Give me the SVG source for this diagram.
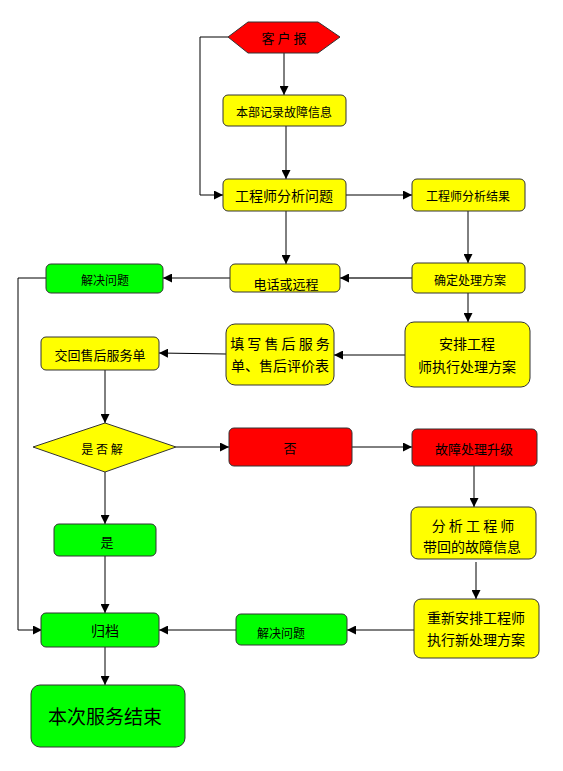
<svg xmlns="http://www.w3.org/2000/svg" width="563" height="771" viewBox="0 0 563 771">
<style>
.y{fill:#ffff00;stroke:#333;stroke-width:1}
.r{fill:#ff0000;stroke:#333;stroke-width:1}
.g{fill:#00ff00;stroke:#333;stroke-width:1}
text{font-family:"Noto Sans CJK SC","Liberation Sans",sans-serif;font-size:13px;fill:#000;text-anchor:middle;dominant-baseline:central}
.c line,.c polyline{stroke:#000;stroke-width:1;fill:none;marker-end:url(#a)}
</style>
<defs>
<marker id="a" viewBox="0 0 10 10" refX="10" refY="5" markerWidth="9" markerHeight="9" markerUnits="userSpaceOnUse" orient="auto"><path d="M0,0 L10,5 L0,10 z" fill="#000"/></marker>
<clipPath id="cp"><rect x="230" y="264" width="110" height="28"/></clipPath>
</defs>
<rect width="563" height="771" fill="#fff"/>
<g class="c">
<line x1="284" y1="53" x2="284" y2="95"/>
<polyline points="228,37 200,37 200,195 223,195"/>
<line x1="286" y1="126" x2="286" y2="179"/>
<line x1="346" y1="195" x2="412" y2="195"/>
<line x1="468" y1="211" x2="468" y2="263"/>
<line x1="286" y1="211" x2="286" y2="264"/>
<line x1="412" y1="278" x2="340" y2="278" style="stroke:#666;stroke-width:2"/>
<line x1="230" y1="278" x2="163" y2="278"/>
<polyline points="46,278 18,278 18,630 42,630"/>
<line x1="468" y1="293" x2="468" y2="322"/>
<line x1="405" y1="355" x2="334" y2="355"/>
<line x1="226" y1="354" x2="159" y2="353"/>
<line x1="105" y1="370" x2="105" y2="423"/>
<line x1="176" y1="447" x2="229" y2="447"/>
<line x1="352" y1="447" x2="412" y2="447"/>
<line x1="474" y1="466" x2="474" y2="507"/>
<line x1="476" y1="562" x2="476" y2="599"/>
<line x1="414" y1="630" x2="347" y2="630"/>
<line x1="236" y1="630" x2="159" y2="630"/>
<line x1="105" y1="472" x2="105" y2="524"/>
<line x1="105" y1="556" x2="105" y2="613"/>
<line x1="105" y1="647" x2="105" y2="685"/>
</g>
<g id="start"><polygon class="r" points="228,37 248,22 318,22 340,37 318,53 248,53"/><text x="284" y="37">客 户 报</text></g>
<g id="record"><rect class="y" x="223" y="95" width="123" height="31" rx="5"/><text x="284" y="111" style="font-size:12px">本部记录故障信息</text></g>
<g id="analyze"><rect class="y" x="223" y="179" width="123" height="32" rx="5"/><text x="284" y="195" style="font-size:14px">工程师分析问题</text></g>
<g id="result"><rect class="y" x="412" y="179" width="113" height="32" rx="5"/><text x="468" y="195" style="font-size:12px">工程师分析结果</text></g>
<g id="plan"><rect class="y" x="412" y="263" width="113" height="30" rx="5"/><text x="470" y="279" style="font-size:12px">确定处理方案</text></g>
<g id="remote"><rect class="y" x="230" y="264" width="110" height="28" rx="5"/><text x="286" y="283" style="font-size:13px" clip-path="url(#cp)">电话或远程</text></g>
<g id="solved1"><rect class="g" x="46" y="264" width="117" height="29" rx="5"/><text x="105" y="279" style="font-size:12px">解决问题</text></g>
<g id="arrange"><rect class="y" x="405" y="322" width="125" height="65" rx="9"/><text x="467" y="343" style="font-size:14px">安排工程</text><text x="467" y="366" style="font-size:14px">师执行处理方案</text></g>
<g id="fill"><rect class="y" x="226" y="324" width="108" height="61" rx="9"/><text x="280" y="343" style="font-size:14px">填 写 售 后 服 务</text><text x="280" y="365" style="font-size:14px">单、售后评价表</text></g>
<g id="return"><rect class="y" x="41" y="337" width="118" height="33" rx="5"/><text x="100" y="354" style="font-size:13px">交回售后服务单</text></g>
<g id="decide"><polygon class="y" points="33,447 105,423 176,447 105,472"/><text x="102" y="448" style="font-size:12px">是 否 解</text></g>
<g id="no"><rect class="r" x="229" y="428" width="123" height="38" rx="5"/><text x="290" y="447" style="font-size:13px">否</text></g>
<g id="upgrade"><rect class="r" x="412" y="429" width="125" height="37" rx="5"/><text x="474" y="448" style="font-size:13px">故障处理升级</text></g>
<g id="bring"><rect class="y" x="411" y="507" width="125" height="52" rx="7"/><text x="473" y="525" style="font-size:14px">分 析 工 程 师</text><text x="472" y="546" style="font-size:14px">带回的故障信息</text></g>
<g id="rearrange"><rect class="y" x="414" y="599" width="125" height="59" rx="7"/><text x="476" y="617" style="font-size:14px">重新安排工程师</text><text x="476" y="639" style="font-size:14px">执行新处理方案</text></g>
<g id="solved2"><rect class="g" x="236" y="614" width="111" height="31" rx="5"/><text x="281" y="632" style="font-size:12px">解决问题</text></g>
<g id="yes"><rect class="g" x="54" y="524" width="102" height="32" rx="5"/><text x="107" y="541" style="font-size:13px">是</text></g>
<g id="archive"><rect class="g" x="41" y="613" width="118" height="34" rx="5"/><text x="105" y="630" style="font-size:14px">归档</text></g>
<g id="end"><rect class="g" x="31" y="685" width="154" height="62" rx="9"/><text x="105" y="715" style="font-size:19px">本次服务结束</text></g>
</svg>
